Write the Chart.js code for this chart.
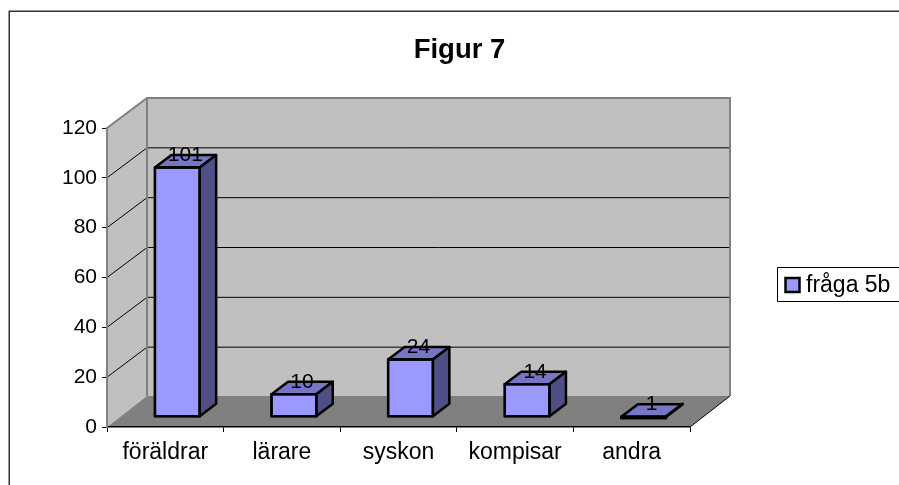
<!DOCTYPE html>
<html>
<head>
<meta charset="utf-8">
<style>html,body{margin:0;padding:0;background:#fff}canvas{display:block}</style>
<script src="https://cdn.jsdelivr.net/npm/chart.js@4"></script>
</head>
<body>
<canvas id="c" width="899" height="485"></canvas>
<script>
const titleText = 'Figur 7';
const seriesName = 'fråga 5b';
const categories = ['föräldrar', 'lärare', 'syskon', 'kompisar', 'andra'];
const values = [101, 10, 24, 14, 1];
const FONT = '"Liberation Sans", Arial, sans-serif';
const wallDx = 40, wallDy = -30, floorDy = -31;
const barDx = 12, barDy = -9;
const sideDx = 16.5, sideDy = -12.5;
const barLine = 2.5;

const threeD = {
  id: 'threeD',
  beforeDraw(chart) {
    const { ctx } = chart;
    const xs = chart.scales.x, ys = chart.scales.y;
    const L = xs.left, R = xs.right, T = ys.top, B = ys.bottom;
    ctx.save();
    ctx.fillStyle = '#fff';
    ctx.fillRect(0, 0, chart.width, chart.height);
    // outer frame
    ctx.strokeStyle = '#333';
    ctx.lineWidth = 1.5;
    ctx.beginPath();
    ctx.moveTo(9.25, 486); ctx.lineTo(9.25, 11.25); ctx.lineTo(900, 11.25);
    ctx.stroke();
    // walls
    ctx.fillStyle = '#C0C0C0';
    ctx.fillRect(L + wallDx, T + wallDy, R - L, B - T);
    ctx.beginPath();
    ctx.moveTo(L, T); ctx.lineTo(L + wallDx, T + wallDy);
    ctx.lineTo(L + wallDx, B + floorDy); ctx.lineTo(L, B); ctx.closePath();
    ctx.fill();
    // floor
    ctx.fillStyle = '#808080';
    ctx.beginPath();
    ctx.moveTo(L, B); ctx.lineTo(L + wallDx, B + floorDy);
    ctx.lineTo(R + wallDx, B + floorDy); ctx.lineTo(R, B); ctx.closePath();
    ctx.fill();
    // gridlines along side and back wall
    ctx.strokeStyle = '#000';
    ctx.lineWidth = 1;
    ys.ticks.forEach(t => {
      if (t.value === ys.min || t.value === ys.max) return;
      const y = ys.getPixelForValue(t.value);
      ctx.beginPath();
      ctx.moveTo(L, y); ctx.lineTo(L + wallDx, y + wallDy);
      ctx.lineTo(R + wallDx, y + wallDy);
      ctx.stroke();
    });
    // wall outline
    ctx.strokeStyle = '#808080';
    ctx.lineWidth = 2;
    ctx.beginPath();
    ctx.moveTo(L, T); ctx.lineTo(L + wallDx, T + wallDy);
    ctx.lineTo(R + wallDx, T + wallDy); ctx.lineTo(R + wallDx, B + floorDy);
    ctx.moveTo(L + wallDx, T + wallDy); ctx.lineTo(L + wallDx, B + floorDy);
    ctx.stroke();
    // floor edge
    ctx.strokeStyle = '#000';
    ctx.lineWidth = 1;
    ctx.beginPath();
    ctx.moveTo(R, B); ctx.lineTo(R + wallDx, B + floorDy);
    ctx.stroke();
    ctx.restore();
  },
  beforeDatasetDraw(chart) {
    const { ctx } = chart;
    ctx.save();
    ctx.translate(barDx, barDy);
    const h = barLine / 2;
    chart.getDatasetMeta(0).data.forEach(bar => {
      const p = bar.getProps(['x', 'y', 'base', 'width'], true);
      const l = p.x - p.width / 2, r = p.x + p.width / 2;
      ctx.lineWidth = barLine;
      ctx.lineJoin = 'round';
      ctx.strokeStyle = '#000';
      ctx.fillStyle = '#7676C5';
      ctx.beginPath();
      ctx.moveTo(l + h, p.y + h); ctx.lineTo(l + h + sideDx, p.y + h + sideDy);
      ctx.lineTo(r - h + sideDx, p.y + h + sideDy); ctx.lineTo(r - h, p.y + h);
      ctx.closePath(); ctx.fill(); ctx.stroke();
      ctx.fillStyle = '#4F4F86';
      ctx.beginPath();
      ctx.moveTo(r - h, p.y + h); ctx.lineTo(r - h + sideDx, p.y + h + sideDy);
      ctx.lineTo(r - h + sideDx, p.base - h + sideDy); ctx.lineTo(r - h, p.base - h);
      ctx.closePath(); ctx.fill(); ctx.stroke();
    });
  },
  afterDatasetDraw(chart) {
    const { ctx } = chart;
    const meta = chart.getDatasetMeta(0);
    const h = barLine / 2;
    // front-face outline stays full weight on very short bars
    ctx.lineWidth = barLine;
    ctx.lineJoin = 'round';
    ctx.strokeStyle = '#000';
    meta.data.forEach(bar => {
      const p = bar.getProps(['x', 'y', 'base', 'width'], true);
      ctx.strokeRect(p.x - p.width / 2 + h, p.y + h, p.width - barLine,
        Math.max(p.base - p.y - barLine, 1.5));
    });
    ctx.textAlign = 'center';
    ctx.textBaseline = 'middle';
    ctx.fillStyle = '#000';
    ctx.font = '21px ' + FONT;
    meta.data.forEach((bar, i) => {
      const p = bar.getProps(['x', 'y'], true);
      ctx.fillText(String(values[i]), p.x + 8, p.y - 11);
    });
    ctx.restore();
    // legend
    ctx.save();
    ctx.strokeStyle = '#000';
    ctx.lineWidth = 1;
    ctx.fillStyle = '#fff';
    ctx.beginPath();
    ctx.moveTo(901, 267.5); ctx.lineTo(777.5, 267.5); ctx.lineTo(777.5, 301.5); ctx.lineTo(901, 301.5);
    ctx.fill(); ctx.stroke();
    ctx.fillStyle = '#9999FF';
    ctx.lineWidth = 2.5;
    ctx.beginPath();
    ctx.rect(785.5, 278, 14, 14);
    ctx.fill(); ctx.stroke();
    ctx.fillStyle = '#000';
    ctx.font = '23px ' + FONT;
    ctx.textAlign = 'left';
    ctx.textBaseline = 'middle';
    ctx.fillText(chart.data.datasets[0].label, 806, 286);
    ctx.restore();
  },
  afterLayout(chart) {
    // title is centred over the whole picture area, not the plot
    const t = chart.titleBlock;
    t.left = 20; t.right = 899; t.width = 879;
  }
};

new Chart(document.getElementById('c'), {
  type: 'bar',
  data: {
    labels: categories,
    datasets: [{
      label: seriesName,
      data: values,
      backgroundColor: '#9999FF',
      borderColor: '#000',
      borderWidth: barLine,
      borderSkipped: false,
      categoryPercentage: 1,
      barPercentage: 0.405
    }]
  },
  plugins: [threeD],
  options: {
    responsive: false,
    animation: false,
    layout: { padding: { left: 0, right: 209, top: 0, bottom: 0 } },
    plugins: {
      legend: { display: false },
      tooltip: { enabled: false },
      title: {
        display: true,
        text: titleText,
        color: '#000',
        font: { family: FONT, size: 27.5, weight: 'bold', lineHeight: 1.2 },
        padding: { top: 34, bottom: 61 }
      }
    },
    scales: {
      x: {
        afterFit(s) { s.height = 58; },
        grid: { display: true, drawOnChartArea: false, drawTicks: true, tickLength: 5, color: '#000', lineWidth: 1 },
        border: { display: true, color: '#000', width: 1.5 },
        ticks: { color: '#000', font: { family: FONT, size: 23 }, padding: 7, maxRotation: 0, autoSkip: false }
      },
      y: {
        min: 0,
        max: 120,
        afterFit(s) { s.width = 107; },
        grid: { display: true, drawOnChartArea: false, drawTicks: true, tickLength: 5, color: '#000', lineWidth: 1 },
        border: { display: true, color: '#808080', width: 2 },
        ticks: { stepSize: 20, color: '#000', font: { family: FONT, size: 21 }, padding: 5 }
      }
    }
  }
});
</script>
</body>
</html>
